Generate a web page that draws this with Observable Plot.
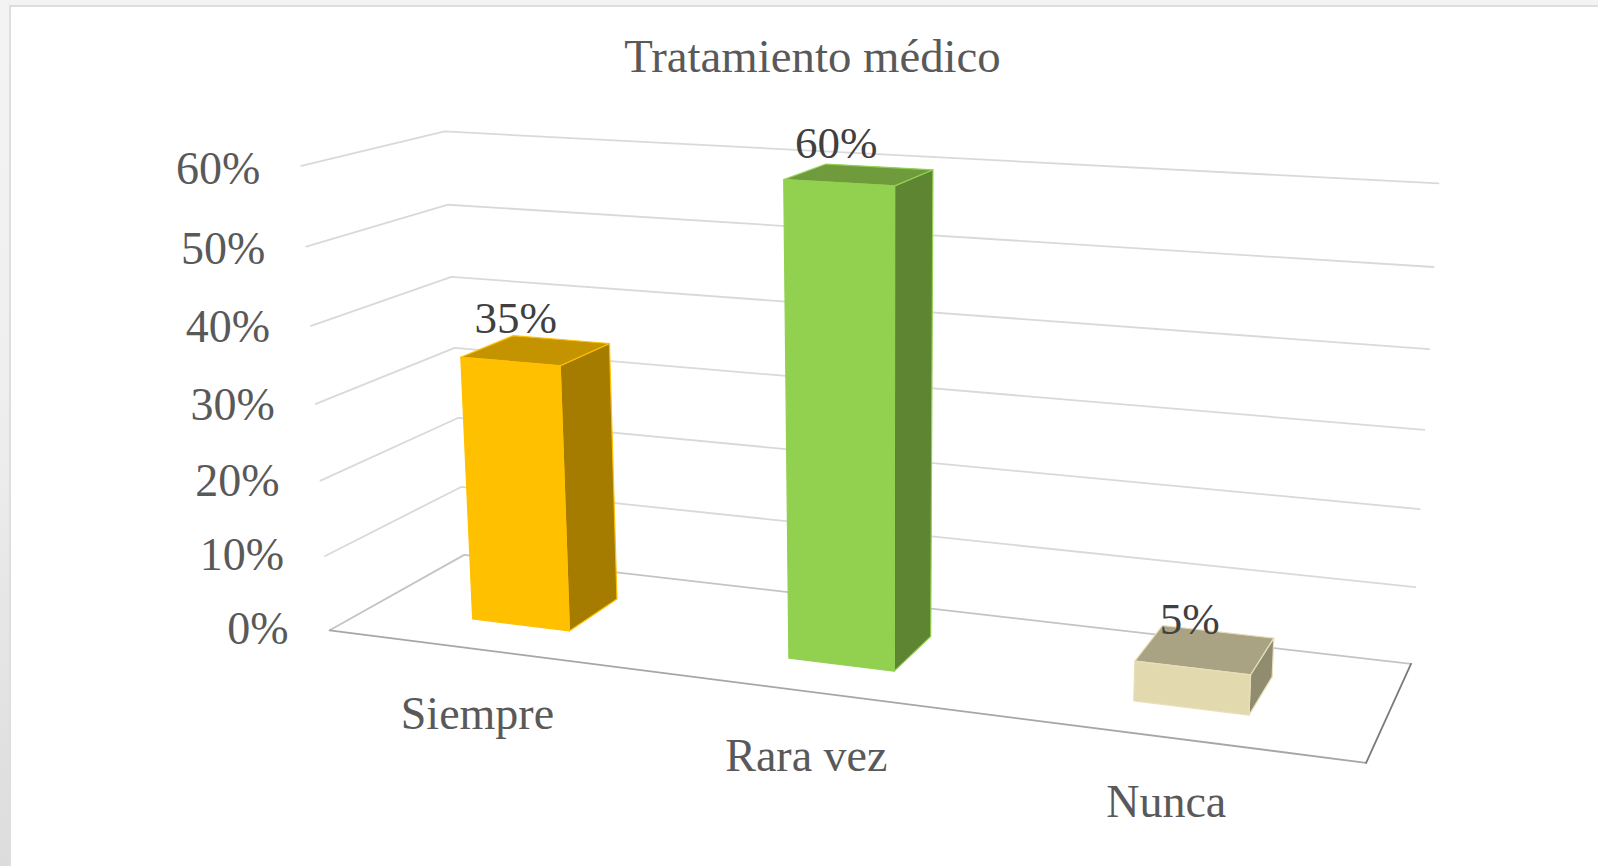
<!DOCTYPE html>
<html lang="es">
<head>
<meta charset="utf-8">
<script src="https://cdn.jsdelivr.net/npm/d3@7"></script>
<script src="https://cdn.jsdelivr.net/npm/@observablehq/plot@0.6"></script>
<style>
html,body{margin:0;padding:0;background:#fff;}
#page{position:relative;width:1598px;height:866px;overflow:hidden;
  background:linear-gradient(180deg,#f3f3f3 0%,#efefef 45%,#dcdcdc 100%);}
#sheet{position:absolute;left:9px;top:5px;right:-4px;bottom:-4px;background:#fff;border:2px solid #dedede;}
#chart{position:absolute;left:0;top:0;}
</style>
</head>
<body>
<div id="page"><div id="sheet"></div><div id="chart"></div></div>
<script>
// ---- data ----
const titleText = "Tratamiento médico";
const categories = ["Siempre", "Rara vez", "Nunca"];
const values = [35, 60, 5];
const yTicks = [0, 10, 20, 30, 40, 50, 60];

// ---- face colours ----
const frontColors = ["#FFC000", "#92D050", "#E2D9AE"];
const topColors = ["#C49300", "#6F9B3D", "#A9A383"];
const sideColors = ["#A67C00", "#5E8532", "#908C70"];
const edgeColors = ["#FFC000", "#92D050", "#E8DFB8"];

// ---- perspective of the 3D box ----
const floorQuad = [[329.2, 629.8], [1365.6, 762.3], [1410.5, 663.4], [463.7, 554.4]];
const heightPerspective = -0.0485;   // change of the homogeneous term over the wall height
const heightX = -43;                 // wall lift, page x
const heightY = [-472.4, -476.8];    // wall lift, page y, at the left and right of the box
const barDepth = [0.295, 0.695];
const labelNudge = [[8, -43], [0, -39], [0, -48]]; // data label offsets from the bar's top front edge

function floorCoefficients([[x0, y0], [x1, y1], [x2, y2], [x3, y3]]) {
  const dx1 = x1 - x2, dx2 = x3 - x2, sx = x0 - x1 + x2 - x3;
  const dy1 = y1 - y2, dy2 = y3 - y2, sy = y0 - y1 + y2 - y3;
  const det = dx1 * dy2 - dx2 * dy1;
  const g = (sx * dy2 - dx2 * sy) / det, h = (dx1 * sy - sx * dy1) / det;
  return {g, h, a: x1 - x0 + g * x1, b: x3 - x0 + h * x3, c: x0, d: y1 - y0 + g * y1, e: y3 - y0 + h * y3, f: y0};
}
const H = floorCoefficients(floorQuad);

// library scales: category -> position along the floor, value -> share of the wall height
const catScale = Plot.scale({x: {type: "band", domain: categories, range: [-0.002, 0.998], paddingInner: 0.685, paddingOuter: 0.3425}});
const valScale = Plot.scale({y: {type: "linear", domain: [0, 60], range: [0, 1]}});
const bandW = catScale.bandwidth;

function project(u, d, value) {
  const t = valScale.apply(value);
  const w = H.g * u + H.h * d + 1 + heightPerspective * t;
  const lift = heightY[0] + (heightY[1] - heightY[0]) * u;
  return {
    x: (H.a * u + H.b * d + H.c + heightX * t) / w,
    y: (H.d * u + H.e * d + H.f + lift * t) / w
  };
}

// ---- rows for the marks ----
const gridMarks = yTicks.map((v) => {
  const wall = [project(0, 0, v), project(0, 1, v), project(1, 1, v)];
  return Plot.line(wall, {x: "x", y: "y", stroke: v === 0 ? "#c4c4c4" : "#d9d9d9", strokeWidth: 1.8});
});
const floorFront = [project(0, 0, 0), project(1, 0, 0)];
const floorRight = [project(1, 0, 0), project(1, 1, 0)];

const barMarks = categories.flatMap((c, i) => {
  const u0 = catScale.apply(c), u1 = u0 + bandW, [d0, d1] = barDepth, v = values[i];
  const front = [project(u0, d0, 0), project(u1, d0, 0), project(u1, d0, v), project(u0, d0, v)];
  const top = [project(u0, d0, v), project(u1, d0, v), project(u1, d1, v), project(u0, d1, v)];
  const side = [project(u1, d0, 0), project(u1, d1, 0), project(u1, d1, v), project(u1, d0, v)];
  const face = (rows, fill) => Plot.line(rows, {x: "x", y: "y", fill, stroke: edgeColors[i], strokeWidth: 1.2, curve: "linear-closed", strokeLinejoin: "round"});
  return [face(side, sideColors[i]), face(top, topColors[i]), face(front, frontColors[i])];
});

const tickRows = yTicks.map((v) => {
  const p = project(0, 0, v);
  return {label: v + "%", x: p.x, y: p.y + 2 * (v - 30) / 30};
});
const catRows = categories.map((c) => ({label: c, ...project(catScale.apply(c) + bandW / 2, 0, 0)}));
const valueRows = categories.map((c, i) => {
  const p = project(catScale.apply(c) + bandW / 2, barDepth[0], values[i]);
  return {label: values[i] + "%", x: p.x + labelNudge[i][0], y: p.y + labelNudge[i][1]};
});

const chart = Plot.plot({
  width: 1598, height: 866,
  marginTop: 0, marginRight: 0, marginBottom: 0, marginLeft: 0,
  x: {domain: [0, 1598], range: [0, 1598], axis: null},
  y: {domain: [0, 866], range: [0, 866], axis: null},
  style: {background: "transparent", fontFamily: "'Liberation Serif', serif"},
  marks: [
    ...gridMarks,
    Plot.line(floorFront, {x: "x", y: "y", stroke: "#a6a6a6", strokeWidth: 1.8}),
    Plot.line(floorRight, {x: "x", y: "y", stroke: "#7a7a7a", strokeWidth: 1.8}),
    ...barMarks,
    Plot.text([titleText], {x: () => 812, y: () => 57, text: (d) => d, fontSize: 46.8, fill: "#595959"}),
    Plot.text(tickRows, {x: "x", y: "y", text: "label", dx: -41, dy: 1, textAnchor: "end", fontSize: 46, fill: "#595959"}),
    Plot.text(catRows, {x: "x", y: "y", text: "label", dx: -4.5, dy: 64.5, fontSize: 46, fill: "#595959"}),
    Plot.text(valueRows, {x: "x", y: "y", text: "label", dx: -2.5, fontSize: 45, fill: "#404040"})
  ]
});
document.getElementById("chart").appendChild(chart);
</script>
</body>
</html>
